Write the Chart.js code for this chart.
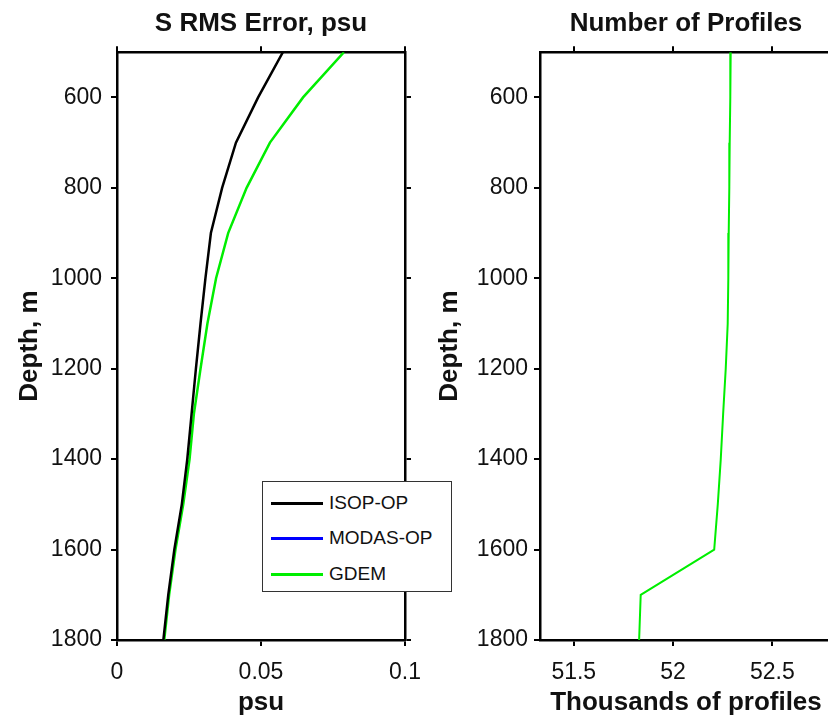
<!DOCTYPE html>
<html>
<head>
<meta charset="utf-8">
<script src="https://cdn.jsdelivr.net/npm/chart.js@4"></script>
<style>
  html, body { margin: 0; padding: 0; background: #fff; overflow: hidden; }
  body { width: 828px; height: 719px; position: relative; }
  #leftWrap { position: absolute; left: 0; top: 0; width: 420px; height: 719px; }
  #rightWrap { position: absolute; left: 420px; top: 0; width: 420px; height: 719px; }
  #legend {
    position: absolute; left: 262px; top: 481px; width: 190px; height: 111px;
    background: #fff; border: 1px solid #333; box-sizing: border-box; z-index: 5;
    font-family: "Liberation Sans", Arial, sans-serif; font-size: 19px; color: #111;
  }
  .lg-row { position: absolute; left: 8px; height: 24px; display: flex; align-items: center; }
  .lg-swatch { width: 52px; height: 0; border-top: 3px solid; margin-right: 6px; }
</style>
</head>
<body>
<div id="leftWrap"><canvas id="rmsChart" width="420" height="719"></canvas></div>
<div id="rightWrap"><canvas id="countChart" width="420" height="719"></canvas></div>
<div id="legend"></div>

<script>
// --- DATA ---
const depths = [500, 600, 700, 800, 900, 1000, 1100, 1200, 1300, 1400, 1500, 1600, 1700, 1800];
const isopRms = [0.0576, 0.0490, 0.0413, 0.0365, 0.0326, 0.0307, 0.0290, 0.0274, 0.0259, 0.0244, 0.0225, 0.0199, 0.0178, 0.0161];
const modasRms = [];
const gdemRms = [0.0788, 0.0646, 0.0531, 0.0450, 0.0386, 0.0344, 0.0314, 0.0290, 0.0267, 0.0252, 0.0230, 0.0203, 0.0181, 0.0164];
const profileCount = [52.290, 52.288, 52.285, 52.283, 52.280, 52.278, 52.275, 52.265, 52.252, 52.240, 52.225, 52.207, 51.837, 51.829];

const depthTicks = [600, 800, 1000, 1200, 1400, 1600, 1800];
const rmsTicks = [0, 0.05, 0.1];
const profileTicks = [51.5, 52, 52.5];

const FONT = '"Liberation Sans", Arial, Helvetica, sans-serif';

// --- HELPERS ---
const toPoints = (xs, ys) => xs.map((x, i) => ({ x: x, y: ys[i] }));
const fixedTicks = list => scale => { scale.ticks = list.map(v => ({ value: v })); };

function tickGrid() {
    return { drawOnChartArea: false, drawTicks: true, tickLength: 6, color: '#000', lineWidth: 2 };
}
function border() {
    return { display: true, color: '#000', width: 2.5 };
}
// fixed box size, and no extra side padding for the edge labels
function fitHeight(h) {
    return s => { s.height = h; s.paddingLeft = 0; s.paddingRight = 0; };
}
function fitWidth(w) {
    return s => { s.width = w; s.paddingTop = 0; s.paddingBottom = 0; };
}

function buildOptions(cfg) {
    return {
        responsive: false,
        animation: false,
        layout: { padding: 0 },
        plugins: {
            legend: { display: false },
            tooltip: { enabled: false },
            title: {
                display: true,
                text: cfg.title,
                fullSize: false,
                color: '#111',
                font: { family: FONT, size: 26, weight: 'bold' },
                padding: { top: 8, bottom: 2 }
            }
        },
        scales: {
            x: {
                type: 'linear', position: 'bottom',
                min: cfg.xMin, max: cfg.xMax,
                afterBuildTicks: fixedTicks(cfg.xTicks),
                afterFit: fitHeight(79),
                grid: tickGrid(), border: border(),
                ticks: { color: '#111', padding: 13, maxRotation: 0, font: { family: FONT, size: 23 },
                         callback: v => String(v) },
                title: { display: true, text: cfg.xTitle, color: '#111',
                         font: { family: FONT, size: 26, weight: 'bold' }, padding: { top: 0, bottom: 1 } }
            },
            x2: {
                type: 'linear', position: 'top',
                min: cfg.xMin, max: cfg.xMax,
                afterBuildTicks: fixedTicks(cfg.xTicks),
                afterFit: fitHeight(11),
                grid: tickGrid(), border: border(),
                ticks: { display: false }
            },
            y: {
                type: 'linear', position: 'left', reverse: true,
                min: 500, max: 1800,
                afterBuildTicks: fixedTicks(depthTicks),
                afterFit: fitWidth(cfg.yWidth),
                grid: tickGrid(), border: border(),
                ticks: { color: '#111', padding: cfg.yPad, font: { family: FONT, size: 23 },
                         callback: v => String(v) },
                title: { display: true, text: 'Depth, m', color: '#111',
                         font: { family: FONT, size: 26, weight: 'bold' }, padding: { top: 14, bottom: 0 } }
            },
            y2: {
                type: 'linear', position: 'right', reverse: true,
                min: 500, max: 1800,
                afterBuildTicks: fixedTicks(depthTicks),
                afterFit: fitWidth(cfg.y2Width),
                grid: tickGrid(), border: border(),
                ticks: { display: false }
            }
        }
    };
}

// --- CHARTS ---
const rmsChart = new Chart(document.getElementById('rmsChart'), {
    type: 'line',
    data: {
        datasets: [
            { label: 'ISOP-OP', data: toPoints(isopRms, depths), borderColor: '#000', borderWidth: 2.5, pointRadius: 0, fill: false },
            { label: 'MODAS-OP', data: toPoints(modasRms, depths), borderColor: '#0000ff', borderWidth: 2.5, pointRadius: 0, fill: false },
            { label: 'GDEM', data: toPoints(gdemRms, depths), borderColor: '#00ee00', borderWidth: 2.5, pointRadius: 0, fill: false }
        ]
    },
    options: buildOptions({
        title: 'S RMS Error, psu', xTitle: 'psu',
        xMin: 0, xMax: 0.1, xTicks: rmsTicks,
        yWidth: 117, yPad: 9, y2Width: 15
    })
});

const countChart = new Chart(document.getElementById('countChart'), {
    type: 'line',
    data: {
        datasets: [
            { label: 'GDEM', data: toPoints(profileCount, depths), borderColor: '#00ee00', borderWidth: 2, pointRadius: 0, fill: false }
        ]
    },
    options: buildOptions({
        title: 'Number of Profiles', xTitle: 'Thousands of profiles',
        xMin: 51.33, xMax: 52.8, xTicks: profileTicks,
        yWidth: 120, yPad: 6, y2Width: 8
    })
});

// legend box built from the left chart's datasets
const legendEl = document.getElementById('legend');
rmsChart.data.datasets.forEach((ds, i) => {
    const row = document.createElement('div');
    row.className = 'lg-row';
    row.style.top = [9, 44, 80][i] + 'px';
    row.innerHTML = `<span class="lg-swatch" style="border-color:${ds.borderColor}"></span><span>${ds.label}</span>`;
    legendEl.appendChild(row);
});
</script>
</body>
</html>
